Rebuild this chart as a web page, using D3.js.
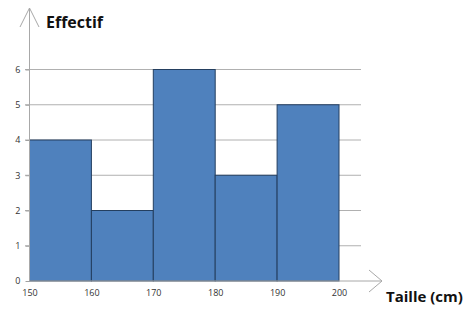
<!DOCTYPE html>
<html lang="fr">
<head>
<meta charset="UTF-8">
<title>Histogramme</title>
<script src="https://cdn.jsdelivr.net/npm/d3@7"></script>
<style>
  body { margin: 0; background: #fff; }
  svg text { font-family: "Open Sans", "DejaVu Sans", sans-serif; }
</style>
</head>
<body>
<div id="chart"></div>
<script>
// classes de taille (cm) et effectifs
const binStarts = [150, 160, 170, 180, 190];
const binEnds = [160, 170, 180, 190, 200];
const counts = [4, 2, 6, 3, 5];
const xTicks = [150, 160, 170, 180, 190, 200];
const yTicks = [0, 1, 2, 3, 4, 5, 6];

const w = 474, h = 318;
const svg = d3.select("#chart").append("svg").attr("width", w).attr("height", h);

const x = d3.scaleLinear().domain([150, 200]).range([29.5, 339]);
const y = d3.scaleLinear().domain([0, 6]).range([281, 69.5]);

// grille
svg.append("g").selectAll("line")
  .data(yTicks.slice(1))
  .enter().append("line")
  .attr("x1", 25).attr("x2", 361)
  .attr("y1", d => y(d)).attr("y2", d => y(d))
  .attr("stroke", "#b0b0b0").attr("stroke-width", 1);

// barres
svg.append("g").selectAll("rect")
  .data(counts)
  .enter().append("rect")
  .attr("x", (d, i) => x(binStarts[i]))
  .attr("width", (d, i) => x(binEnds[i]) - x(binStarts[i]))
  .attr("y", d => y(d))
  .attr("height", d => y(0) - y(d))
  .attr("fill", "#4f81bd")
  .attr("stroke", "#243f60").attr("stroke-width", 1);

// axe Y
const yAxis = svg.append("g")
  .attr("transform", "translate(" + x(150) + ",0)")
  .call(d3.axisLeft(y).tickValues(yTicks).tickSize(4).tickFormat(d3.format("d")));
yAxis.select(".domain").remove();
yAxis.selectAll("line").attr("stroke", "#a0a0a0");
yAxis.selectAll("text").attr("font-size", 9).attr("fill", "#333").attr("x", -9);

// axe X
const xAxis = svg.append("g")
  .attr("transform", "translate(0," + y(0) + ")")
  .call(d3.axisBottom(x).tickValues(xTicks).tickSize(0).tickFormat(d3.format("d")));
xAxis.select(".domain").remove();
xAxis.selectAll("text").attr("font-size", 9).attr("fill", "#333").attr("y", 9);

// lignes d'axe avec flèches
const axisColor = "#a8a8a8";
svg.append("line").attr("x1", x(150)).attr("x2", x(150)).attr("y1", y(0)).attr("y2", 8)
  .attr("stroke", axisColor);
svg.append("path").attr("d", "M20,27L" + x(150) + ",8L39,27")
  .attr("fill", "none").attr("stroke", axisColor);
svg.append("line").attr("x1", x(150)).attr("x2", 382).attr("y1", y(0)).attr("y2", y(0))
  .attr("stroke", axisColor);
svg.append("path").attr("d", "M369,270L382," + y(0) + "L369,292")
  .attr("fill", "none").attr("stroke", axisColor);

// titres
svg.append("text").attr("x", 46).attr("y", 28)
  .attr("font-size", 16).attr("font-weight", "bold").attr("fill", "#111")
  .text("Effectif");
svg.append("text").attr("x", 386).attr("y", 302)
  .attr("font-size", 15).attr("font-weight", "bold").attr("fill", "#111")
  .text("Taille (cm)");
</script>
</body>
</html>
